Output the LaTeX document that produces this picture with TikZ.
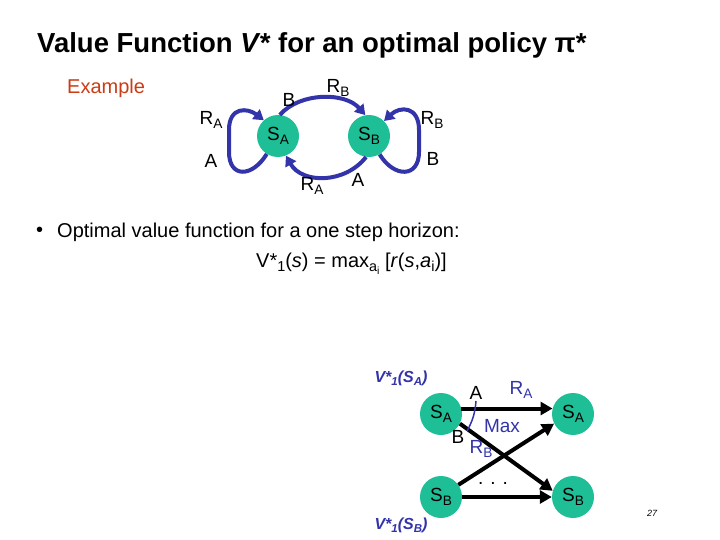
\documentclass[tikz,border=0pt]{standalone}
\usepackage{fontspec}
\usepackage{graphicx}
\setmainfont{Liberation Sans}
\usetikzlibrary{arrows.meta}
\definecolor{sgreen}{RGB}{30,190,150}
\definecolor{lblue}{RGB}{51,51,170}
\definecolor{exred}{RGB}{204,60,20}
\newcommand\lsub[1]{\raisebox{-0.4ex}{\scalebox{0.72}{#1}}}
\begin{document}
\begin{tikzpicture}[x=1pt,y=-1pt,
 state/.style={circle,fill=sgreen,minimum size=42pt,inner sep=0pt,font=\fontsize{19}{19}\selectfont},
 lbl/.style={inner sep=0pt,font=\fontsize{19}{19}\selectfont},
 bluelbl/.style={lbl,text=lblue},
 loopedge/.style={draw=lblue,line width=4pt,-{Triangle[length=10pt,width=12pt]}},
 darrow/.style={draw=black,line width=4pt,-{Triangle[length=12pt,width=13pt]}},
 vlbl/.style={inner sep=0pt,text=lblue,font=\fontsize{16}{16}\selectfont\bfseries\itshape},
 txt/.style={anchor=west,inner sep=0pt,font=\fontsize{20}{20}\selectfont},
]
\useasboundingbox[fill=white] (0,0) rectangle (720,540);

% title
\node[anchor=west,inner sep=0pt,font=\fontsize{27.5}{27.5}\selectfont\bfseries] (title) at (37,45)
  {Value Function \textit{V*} for an optimal policy π*};
\node[anchor=west,inner sep=0pt,text=exred,font=\fontsize{20}{20}\selectfont] (ex) at (67,88) {Example};

% top diagram
\node[state] (SA) at (278,136) {S\lsub{A}};
\node[state] (SB) at (369,136) {S\lsub{B}};

\draw[loopedge] (SA.238) .. controls (252,178) and (229,178) .. (229,152)
   -- (229,130) .. controls (229,106) and (248,108) .. (SA.132);
\draw[loopedge] (SA.85) .. controls (300,92) and (345,92) .. (SB.100);
\draw[loopedge] (SB.262) .. controls (345,184) and (302,184) .. (SA.292);
\draw[loopedge] (SB.300) .. controls (394,178) and (419,178) .. (419,152)
   -- (419,130) .. controls (419,106) and (400,106) .. (SB.45);

\node[lbl] (la1) at (211,120) {R\lsub{A}};
\node[lbl] (la2) at (211,161) {A};
\node[lbl] (lb1) at (289,100) {B};
\node[lbl] (lb2) at (338,88) {R\lsub{B}};
\node[lbl] (lc1) at (312,186) {R\lsub{A}};
\node[lbl] (lc2) at (358,180) {A};
\node[lbl] (ld1) at (432,120) {R\lsub{B}};
\node[lbl] (ld2) at (433,159) {B};

% bullet text
\node[txt] (bul) at (36,232) {•};
\node[txt] (btext) at (57,232) {Optimal value function for a one step horizon:};
\node[txt] (form) at (256,264)
  {V*\lsub{1}(\textit{s}) = max\lsub{a\lsub{i}} [\textit{r}(\textit{s},\textit{a}\lsub{i})]};

% bottom diagram
\node[state] (SA1) at (441,414) {S\lsub{A}};
\node[state] (SA2) at (573,414) {S\lsub{A}};
\node[state] (SB1) at (441,497) {S\lsub{B}};
\node[state] (SB2) at (573,497) {S\lsub{B}};

\draw[darrow] (SA1.15) -- (SA2.165);
\draw[darrow] (SA1.-27) -- (SB2.163);
\draw[darrow] (SB1.35) -- (SA2.207);
\draw[darrow] (SB1.east) -- (SB2.west);

\coordinate (arcA) at (476,401);
\coordinate (arcB) at (467,431);
\draw[lblue,line width=1.5pt] (arcA) to[bend left=12] (arcB);

\node[lbl] (bA) at (476,393) {A};
\node[bluelbl] (bRA) at (521,390) {R\lsub{A}};
\node[bluelbl] (bMax) at (502,426) {Max};
\node[lbl] (bB) at (458,437) {B};
\node[bluelbl] (bRB) at (481,449) {R\lsub{B}};
\node[lbl] (bdots) at (493,483) {. . .};

\node[vlbl] (v1) at (401,378) {V*\lsub{1}(S\lsub{A})};
\node[vlbl] (v2) at (401,525) {V*\lsub{1}(S\lsub{B})};

\node[inner sep=0pt,font=\fontsize{9}{9}\selectfont\itshape] (pg) at (652,513) {27};
\end{tikzpicture}
\end{document}
